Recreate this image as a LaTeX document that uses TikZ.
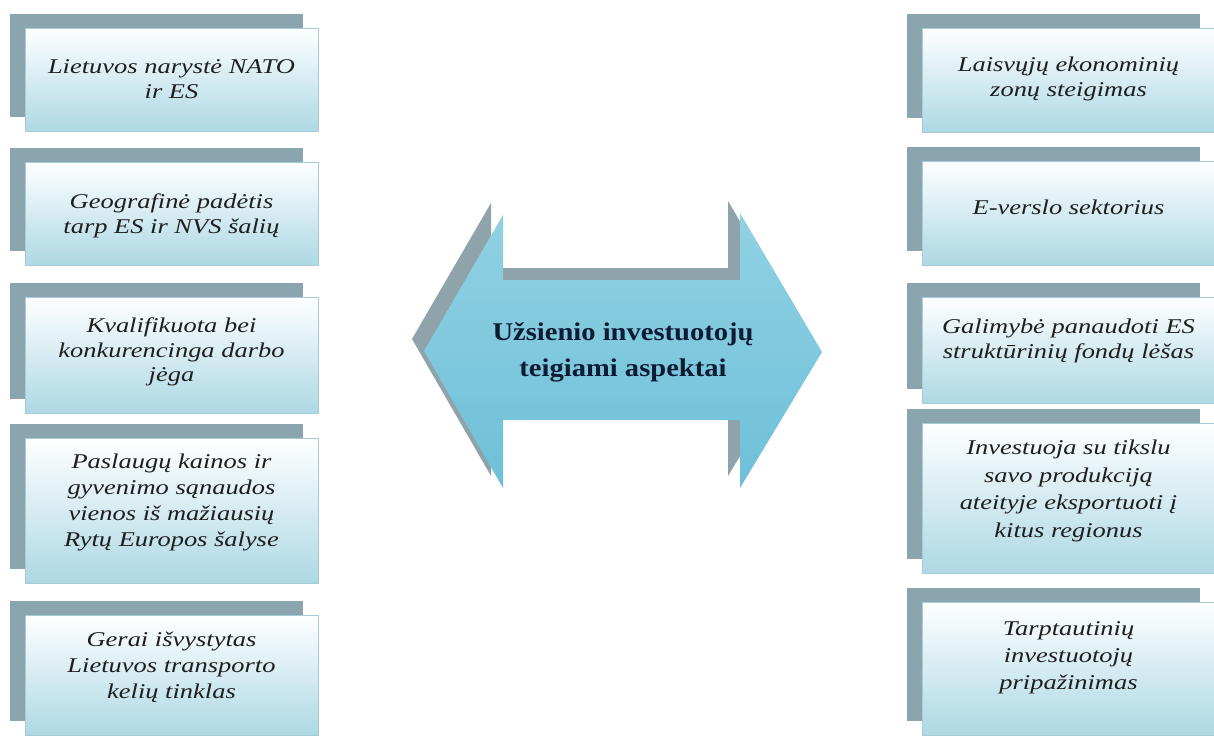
\documentclass[tikz,border=0pt]{standalone}
\usepackage{fontspec}
\setmainfont{Liberation Serif}
\newfontfamily\boxfont{Liberation Serif}[FakeStretch=1.26]
\newfontfamily\arrowfont{Liberation Serif}[FakeStretch=1.12]
\usetikzlibrary{shadows}
\definecolor{shadowc}{HTML}{8BA5AE}
\definecolor{boxbot}{HTML}{ADD8E4}
\definecolor{boxline}{HTML}{A6CCD8}
\definecolor{textc}{HTML}{1E1E1E}
\definecolor{arrtop}{HTML}{92D1E3}
\definecolor{arrmid}{HTML}{4BAAC8}
\definecolor{arrbot}{HTML}{6DC0D8}
\definecolor{arrshadow}{HTML}{8FA3AB}
\definecolor{arrtext}{HTML}{0D1B33}
\begin{document}
\begin{tikzpicture}[x=1pt,y=-1pt,
  boxbg/.style={draw=boxline, line width=0.6pt, top color=white, bottom color=boxbot,
    minimum width=293pt, inner sep=0pt,
    general shadow={fill=shadowc, shadow xshift=-15pt, shadow yshift=14pt}},
  boxtext/.style={align=center, font=\boxfont\itshape\fontsize{21}{24.5}\selectfont,
    text=textc, inner sep=0pt},
  arrowtext/.style={align=center, font=\arrowfont\bfseries\fontsize{25.5}{36}\selectfont,
    text=arrtext, inner sep=0pt}]
\useasboundingbox (0,0) rectangle (1214,742);
\fill[white] (0,0) rectangle (1214,742);

% left column boxes
\node[boxbg, minimum height=103pt] (L1) at (171.5,79.5) {};
\node[boxbg, minimum height=103pt] (L2) at (171.5,213.5) {};
\node[boxbg, minimum height=116pt] (L3) at (171.5,355) {};
\node[boxbg, minimum height=145pt] (L4) at (171.5,510.5) {};
\node[boxbg, minimum height=120pt] (L5) at (171.5,675) {};

% right column boxes
\node[boxbg, minimum height=104pt] (R1) at (1068.5,80) {};
\node[boxbg, minimum height=104pt] (R2) at (1068.5,213) {};
\node[boxbg, minimum height=106pt] (R3) at (1068.5,350) {};
\node[boxbg, minimum height=150pt] (R4) at (1068.5,498) {};
\node[boxbg, minimum height=133pt] (R5) at (1068.5,668.5) {};

% texts
\node[boxtext] (tL1) at (171.5,79) {Lietuvos narystė NATO\\ir ES};
\node[boxtext] (tL2) at (171.5,216) {Geografinė padėtis\\tarp ES ir NVS šalių};
\node[boxtext] (tL3) at (171.5,352) {Kvalifikuota bei\\konkurencinga darbo\\jėga};
\node[boxtext, font=\boxfont\itshape\fontsize{21}{26}\selectfont] (tL4) at (171.5,502) {Paslaugų kainos ir\\gyvenimo sąnaudos\\vienos iš mažiausių\\Rytų Europos šalyse};
\node[boxtext, font=\boxfont\itshape\fontsize{21}{26}\selectfont] (tL5) at (171.5,667) {Gerai išvystytas\\Lietuvos transporto\\kelių tinklas};

\node[boxtext] (tR1) at (1068.5,79) {Laisvųjų ekonominių\\zonų steigimas};
\node[boxtext] (tR2) at (1068.5,207) {E-verslo sektorius};
\node[boxtext] (tR3) at (1068.5,341) {Galimybė panaudoti ES\\struktūrinių fondų lėšas};
\node[boxtext, font=\boxfont\itshape\fontsize{21}{27.5}\selectfont] (tR4) at (1068.5,491) {Investuoja su tikslu\\savo produkciją\\ateityje eksportuoti į\\kitus regionus};
\node[boxtext, font=\boxfont\itshape\fontsize{21}{27}\selectfont] (tR5) at (1068.5,658) {Tarptautinių\\investuotojų\\pripažinimas};

% central double arrow: shadow then front
\fill[arrshadow, shift={(-12,-12)}]
  (424,351) -- (503,215) -- (503,280) -- (740,280) -- (740,213) -- (822,352)
  -- (740,488) -- (740,420) -- (503,420) -- (503,488) -- cycle;
\path[top color=arrtop, middle color=arrmid, bottom color=arrbot]
  (424,351) -- (503,215) -- (503,280) -- (740,280) -- (740,213) -- (822,352)
  -- (740,488) -- (740,420) -- (503,420) -- (503,488) -- cycle;
\node[arrowtext] (center) at (623,352) {Užsienio investuotojų\\teigiami aspektai};
\end{tikzpicture}
\end{document}
